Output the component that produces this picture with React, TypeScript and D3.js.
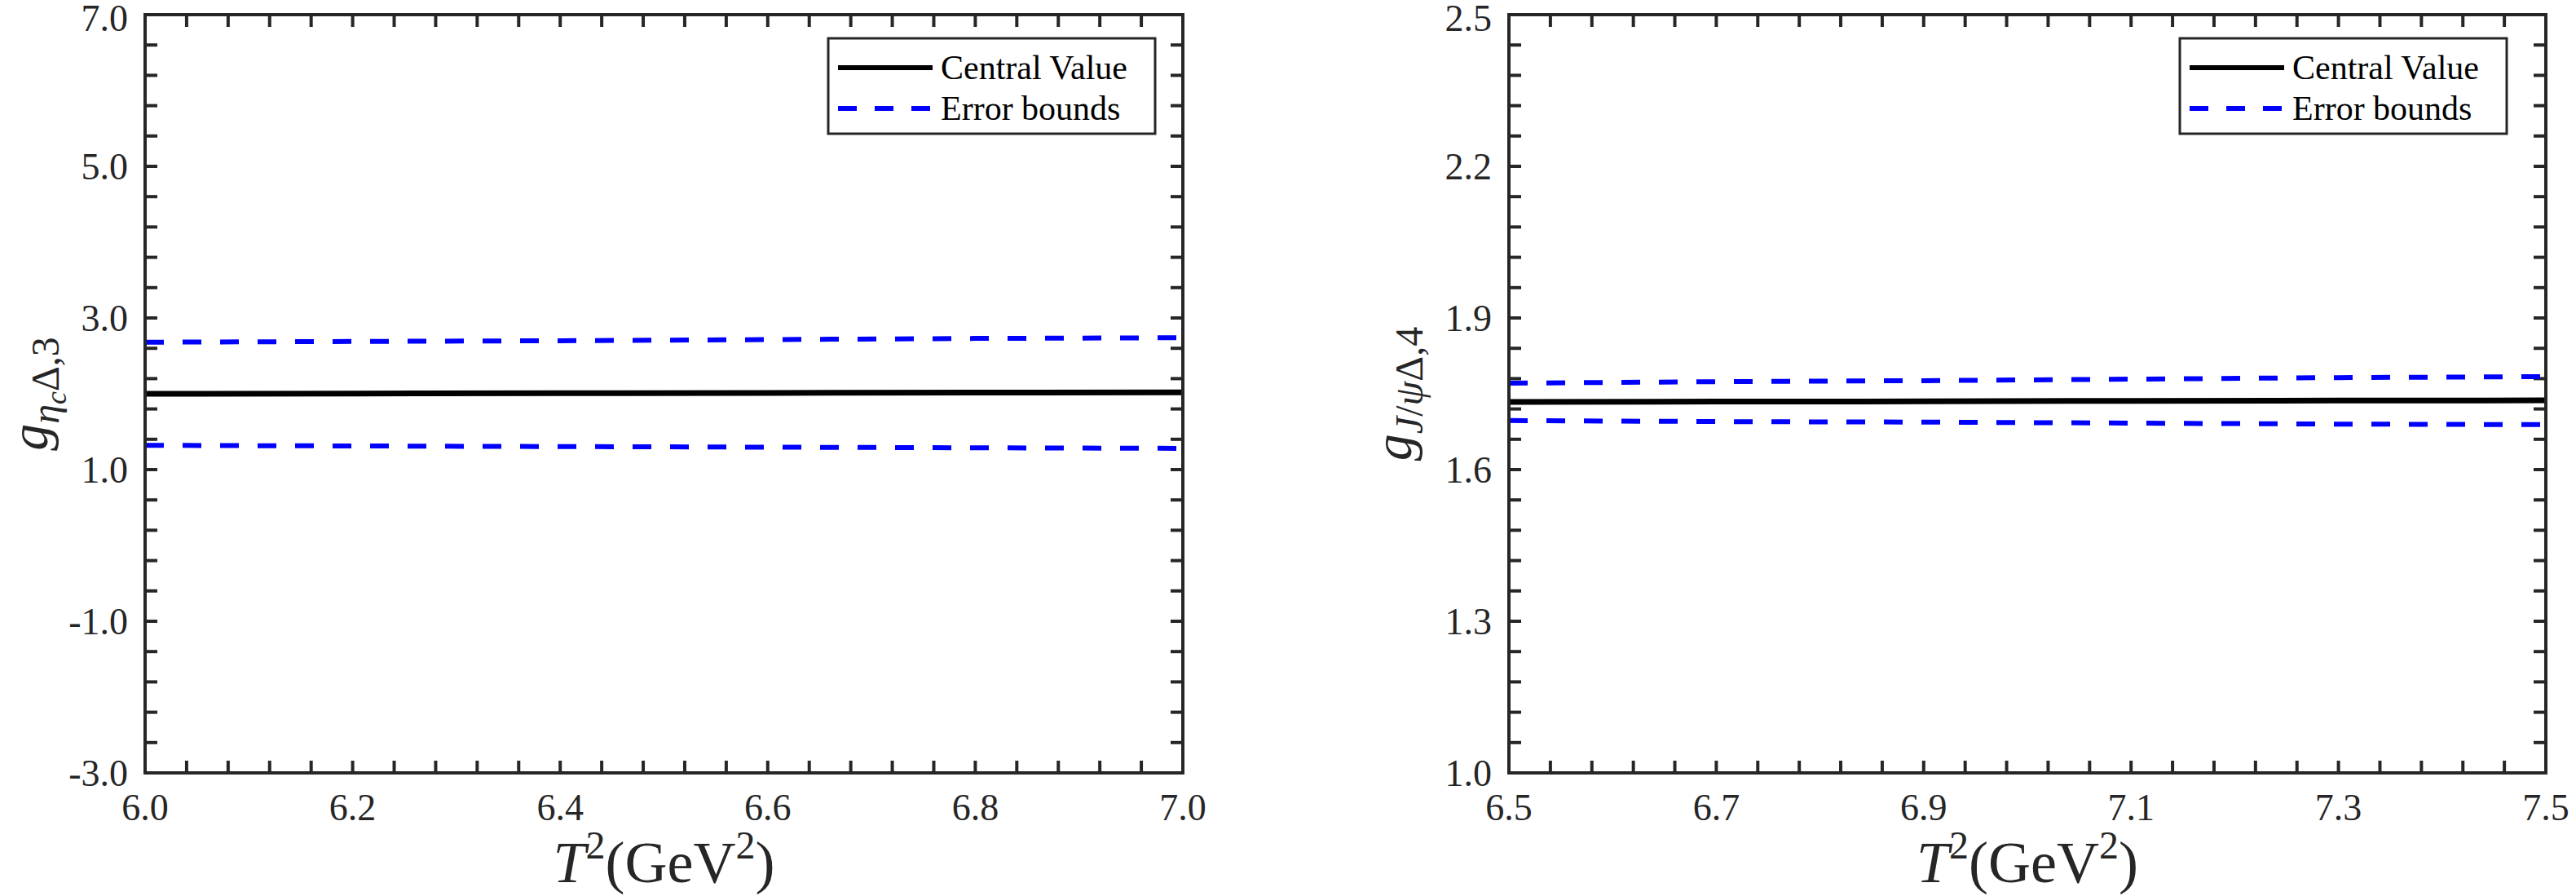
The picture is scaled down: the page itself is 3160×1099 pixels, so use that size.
import React, { useRef, useEffect } from "react";
import * as d3 from "d3";

// left panel: g_{eta_c Delta,3}
const leftT2 = [6.0, 6.2, 6.4, 6.6, 6.8, 7.0];
const leftCentral = [2.0, 2.004, 2.008, 2.012, 2.016, 2.02];
const leftUpper = [2.68, 2.69, 2.70, 2.715, 2.73, 2.74];
const leftLower = [1.32, 1.312, 1.304, 1.296, 1.288, 1.28];
const leftXTicks = ["6.0", "6.2", "6.4", "6.6", "6.8", "7.0"];
const leftYTicks = ["-3.0", "-1.0", "1.0", "3.0", "5.0", "7.0"];

// right panel: g_{J/psi Delta,4}
const rightT2 = [6.5, 6.7, 6.9, 7.1, 7.3, 7.5];
const rightCentral = [1.734, 1.7345, 1.735, 1.736, 1.7365, 1.737];
const rightUpper = [1.771, 1.774, 1.776, 1.779, 1.782, 1.784];
const rightLower = [1.697, 1.695, 1.694, 1.692, 1.69, 1.689];
const rightXTicks = ["6.5", "6.7", "6.9", "7.1", "7.3", "7.5"];
const rightYTicks = ["1.0", "1.3", "1.6", "1.9", "2.2", "2.5"];

const legendLabels = ["Central Value", "Error bounds"];

const FONT = "'Liberation Serif', 'Times New Roman', serif";
const AXIS = "#262626";

interface PanelSpec {
  left: number;
  right: number;
  legendRight: number;
  xs: number[];
  central: number[];
  upper: number[];
  lower: number[];
  xTicks: string[];
  yTicks: string[];
  xMinor: number;
  yMinor: number;
  yLabel: (t: d3.Selection<SVGTextElement, unknown, null, undefined>) => void;
}

const TOP = 18;
const BOTTOM = 948;

function drawPanel(svg: d3.Selection<SVGSVGElement, unknown, null, undefined>, p: PanelSpec) {
  const xDomain = [+p.xTicks[0], +p.xTicks[p.xTicks.length - 1]];
  const yDomain = [+p.yTicks[0], +p.yTicks[p.yTicks.length - 1]];
  const x = d3.scaleLinear().domain(xDomain).range([p.left, p.right]);
  const y = d3.scaleLinear().domain(yDomain).range([BOTTOM, TOP]);
  const g = svg.append("g");

  // Minor + major ticks on all four sides (inward)
  const tickLen = 15;
  const xCount = Math.round((xDomain[1] - xDomain[0]) / p.xMinor);
  for (let i = 0; i <= xCount; i++) {
    const xv = x(xDomain[0] + i * p.xMinor);
    g.append("line").attr("x1", xv).attr("x2", xv).attr("y1", BOTTOM).attr("y2", BOTTOM - tickLen)
      .attr("stroke", AXIS).attr("stroke-width", 4);
    g.append("line").attr("x1", xv).attr("x2", xv).attr("y1", TOP).attr("y2", TOP + tickLen)
      .attr("stroke", AXIS).attr("stroke-width", 4);
  }
  const yCount = Math.round((yDomain[1] - yDomain[0]) / p.yMinor);
  for (let i = 0; i <= yCount; i++) {
    const yv = y(yDomain[0] + i * p.yMinor);
    g.append("line").attr("x1", p.left).attr("x2", p.left + tickLen).attr("y1", yv).attr("y2", yv)
      .attr("stroke", AXIS).attr("stroke-width", 4);
    g.append("line").attr("x1", p.right).attr("x2", p.right - tickLen).attr("y1", yv).attr("y2", yv)
      .attr("stroke", AXIS).attr("stroke-width", 4);
  }

  // Tick labels
  p.xTicks.forEach((t) => {
    g.append("text").attr("x", x(+t)).attr("y", 1006).attr("text-anchor", "middle")
      .attr("font-family", FONT).attr("font-size", 46).attr("fill", AXIS).text(t);
  });
  p.yTicks.forEach((t) => {
    g.append("text").attr("x", p.left - 21).attr("y", Math.max(y(+t) + 16, 38)).attr("text-anchor", "end")
      .attr("font-family", FONT).attr("font-size", 46).attr("fill", AXIS).text(t);
  });

  // Curves
  const line = d3.line<number>().x((_, i) => x(p.xs[i])).y((d) => y(d));
  g.append("path").datum(p.upper).attr("d", line).attr("fill", "none")
    .attr("stroke", "#0000ff").attr("stroke-width", 6).attr("stroke-dasharray", "23,23");
  g.append("path").datum(p.lower).attr("d", line).attr("fill", "none")
    .attr("stroke", "#0000ff").attr("stroke-width", 6).attr("stroke-dasharray", "23,23");
  g.append("path").datum(p.central).attr("d", line).attr("fill", "none")
    .attr("stroke", "#000").attr("stroke-width", 7);

  // Axis box
  g.append("rect").attr("x", p.left).attr("y", TOP).attr("width", p.right - p.left)
    .attr("height", BOTTOM - TOP).attr("fill", "none").attr("stroke", AXIS).attr("stroke-width", 4);

  // X label
  const xl = g.append("text").attr("x", (p.left + p.right) / 2).attr("y", 1082)
    .attr("text-anchor", "middle").attr("font-family", FONT).attr("font-size", 72).attr("fill", AXIS);
  xl.append("tspan").attr("font-style", "italic").text("T");
  xl.append("tspan").attr("font-size", 48).attr("dy", -29).text("2");
  xl.append("tspan").attr("dy", 29).text("(GeV");
  xl.append("tspan").attr("font-size", 48).attr("dy", -29).text("2");
  xl.append("tspan").attr("dy", 29).text(")");

  // Y label
  const yl = g.append("text")
    .attr("transform", `translate(${p.left - 120},${(TOP + BOTTOM) / 2}) rotate(-90)`)
    .attr("text-anchor", "middle").attr("font-family", FONT).attr("font-size", 66).attr("fill", AXIS);
  p.yLabel(yl);

  // Legend
  const lw = 401, lh = 117, ly = 47;
  const lx = p.legendRight - lw;
  const lg = g.append("g");
  lg.append("rect").attr("x", lx).attr("y", ly).attr("width", lw).attr("height", lh)
    .attr("fill", "#fff").attr("stroke", AXIS).attr("stroke-width", 3);
  legendLabels.forEach((lab, i) => {
    const cy = ly + 36 + i * 50;
    lg.append("line").attr("x1", lx + 12).attr("x2", lx + 128).attr("y1", cy).attr("y2", cy)
      .attr("stroke", i === 0 ? "#000" : "#0000ff").attr("stroke-width", 6)
      .attr("stroke-dasharray", i === 0 ? null : "23,22");
    lg.append("text").attr("x", lx + 138).attr("y", cy + 14).attr("font-family", FONT)
      .attr("font-size", 42).attr("fill", "#000").text(lab);
  });
}

const App: React.FC = () => {
  const svgRef = useRef<SVGSVGElement>(null);

  useEffect(() => {
    document.body.style.margin = "0";
    if (!svgRef.current) return;
    const svg = d3.select(svgRef.current);
    svg.selectAll("*").remove();

    drawPanel(svg, {
      left: 178, right: 1451, legendRight: 1417,
      xs: leftT2, central: leftCentral, upper: leftUpper, lower: leftLower,
      xTicks: leftXTicks, yTicks: leftYTicks, xMinor: 0.04, yMinor: 0.4,
      yLabel: (t) => {
        t.append("tspan").attr("font-style", "italic").text("g");
        t.append("tspan").attr("font-style", "italic").attr("font-size", 48).attr("dy", 14).text("η");
        t.append("tspan").attr("font-style", "italic").attr("font-size", 36).attr("dy", 9).text("c");
        t.append("tspan").attr("font-size", 48).attr("dy", -9).text("Δ,3");
      },
    });

    drawPanel(svg, {
      left: 1851, right: 3123, legendRight: 3075,
      xs: rightT2, central: rightCentral, upper: rightUpper, lower: rightLower,
      xTicks: rightXTicks, yTicks: rightYTicks, xMinor: 0.04, yMinor: 0.06,
      yLabel: (t) => {
        t.append("tspan").attr("font-style", "italic").text("g");
        t.append("tspan").attr("font-style", "italic").attr("font-size", 48).attr("dy", 14).text("J");
        t.append("tspan").attr("font-size", 48).text("/");
        t.append("tspan").attr("font-style", "italic").attr("font-size", 48).text("ψ");
        t.append("tspan").attr("font-size", 48).text("Δ,4");
      },
    });
  }, []);

  return (
    <svg ref={svgRef} width={3160} height={1099} style={{ display: "block", background: "#fff" }} />
  );
};

export default App;
